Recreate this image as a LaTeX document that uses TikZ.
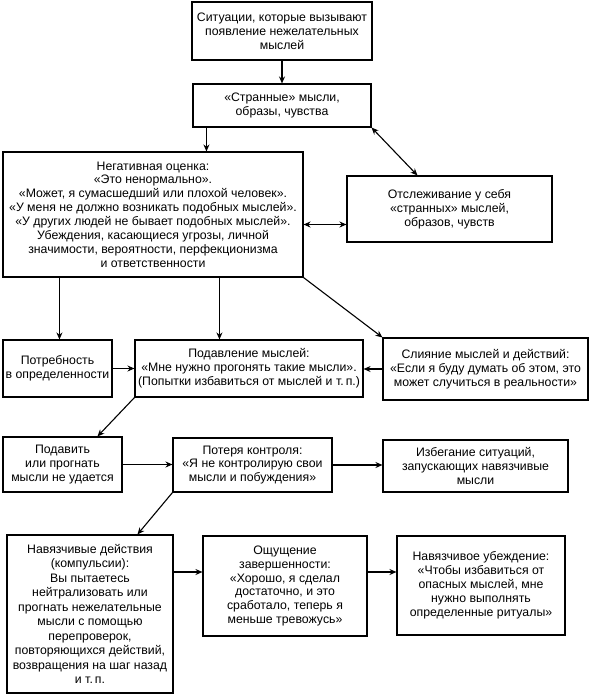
\documentclass[tikz,border=0pt]{standalone}
\usepackage{fontspec}
\setmainfont{Liberation Sans}
\usetikzlibrary{arrows.meta,calc}
\begin{document}
\begin{tikzpicture}[x=1pt,y=-1pt,
  bx/.style={draw,line width=1.1pt,align=center,inner sep=2pt,
    font=\fontsize{12.3}{13.9}\selectfont},
  arr/.style={line width=1.1pt,-{Stealth[length=7pt,width=6pt]}},
  darr/.style={line width=1.1pt,{Stealth[length=7pt,width=6pt]}-{Stealth[length=7pt,width=6pt]}}]
\useasboundingbox (0,0) rectangle (591,697);
\node[bx,minimum width=180pt,minimum height=58pt] (b1) at (282,31) {Ситуации, которые вызывают\\появление нежелательных\\мыслей};
\node[bx,minimum width=178pt,minimum height=43pt] (b2) at (282,105.5) {«Странные» мысли,\\образы, чувства};
\node[bx,minimum width=300pt,minimum height=125pt] (b3) at (153,214.5) {Негативная оценка:\\«Это ненормально».\\«Может, я сумасшедший или плохой человек».\\«У меня не должно возникать подобных мыслей».\\«У других людей не бывает подобных мыслей».\\Убеждения, касающиеся угрозы, личной\\значимости, вероятности, перфекционизма\\и ответственности};
\node[bx,minimum width=205pt,minimum height=66pt] (b4) at (449.5,209) {Отслеживание у себя\\«странных» мыслей,\\образов, чувств};
\node[bx,minimum width=109pt,minimum height=57pt] (b5) at (57.5,368.5) {Потребность\\в определенности};
\node[bx,minimum width=228pt,minimum height=57pt] (b6) at (249,368.5) {Подавление мыслей:\\«Мне нужно прогонять такие мысли».\\(Попытки избавиться от мыслей и т.\,п.)};
\node[bx,minimum width=205pt,minimum height=62pt] (b7) at (485.5,369) {Слияние мыслей и действий:\\«Если я буду думать об этом, это\\может случиться в реальности»};
\node[bx,minimum width=119pt,minimum height=55pt] (b8) at (62.5,464.5) {Подавить\\или прогнать\\мысли не удается};
\node[bx,minimum width=159pt,minimum height=54pt] (b9) at (252.5,465) {Потеря контроля:\\«Я не контролирую свои\\мысли и побуждения»};
\node[bx,minimum width=185pt,minimum height=52pt] (b10) at (475.5,466) {Избегание ситуаций,\\запускающих навязчивые\\мысли};
\node[bx,minimum width=166pt,minimum height=158pt,font=\fontsize{12.3}{14.5}\selectfont] (b11) at (90,614) {Навязчивые действия\\(компульсии):\\Вы пытаетесь\\нейтрализовать или\\прогнать нежелательные\\мысли с помощью\\перепроверок,\\повторяющихся действий,\\возвращения на шаг назад\\и т.\,п.};
\node[bx,minimum width=164pt,minimum height=100pt] (b12) at (285,586) {Ощущение\\завершенности:\\«Хорошо, я сделал\\достаточно, и это\\сработало, теперь я\\меньше тревожусь»};
\node[bx,minimum width=168pt,minimum height=99pt] (b13) at (481,585.5) {Навязчивое убеждение:\\«Чтобы избавиться от\\опасных мыслей, мне\\нужно выполнять\\определенные ритуалы»};
% connectors
\draw[arr] (b1.south) -- (b2.north);
\draw[arr] ([xshift=14pt]b2.south west) -- ([xshift=14pt]b2.south west |- b3.north);
\draw[darr] (b2.south east) -- ([xshift=71pt]b4.north west);
\draw[darr] ([yshift=-10pt]b3.east) -- ([yshift=-10pt]b3.east -| b4.west);
\draw[arr] ([xshift=57pt]b3.south west) -- ([xshift=57pt]b3.south west |- b5.north);
\draw[arr] ([xshift=217pt]b3.south west) -- ([xshift=217pt]b3.south west |- b6.north);
\draw[arr] (b3.south east) -- (b7.north west);
\draw[arr] (b5.east) -- (b5.east -| b6.west);
\draw[arr] (b7.west) -- (b7.west -| b6.east);
\draw[arr] (b6.south west) -- ([xshift=95pt]b8.north west);
\draw[arr] (b8.east) -- (b8.east -| b9.west);
\draw[arr] (b9.east) -- (b9.east -| b10.west);
\draw[arr] (b9.south west) -- ([xshift=131pt]b11.north west);
\draw[arr] ([yshift=42pt]b11.east) -- ([yshift=42pt]b11.east -| b12.west);
\draw[arr] ([yshift=14pt]b12.east) -- ([yshift=14pt]b12.east -| b13.west);
\end{tikzpicture}
\end{document}
